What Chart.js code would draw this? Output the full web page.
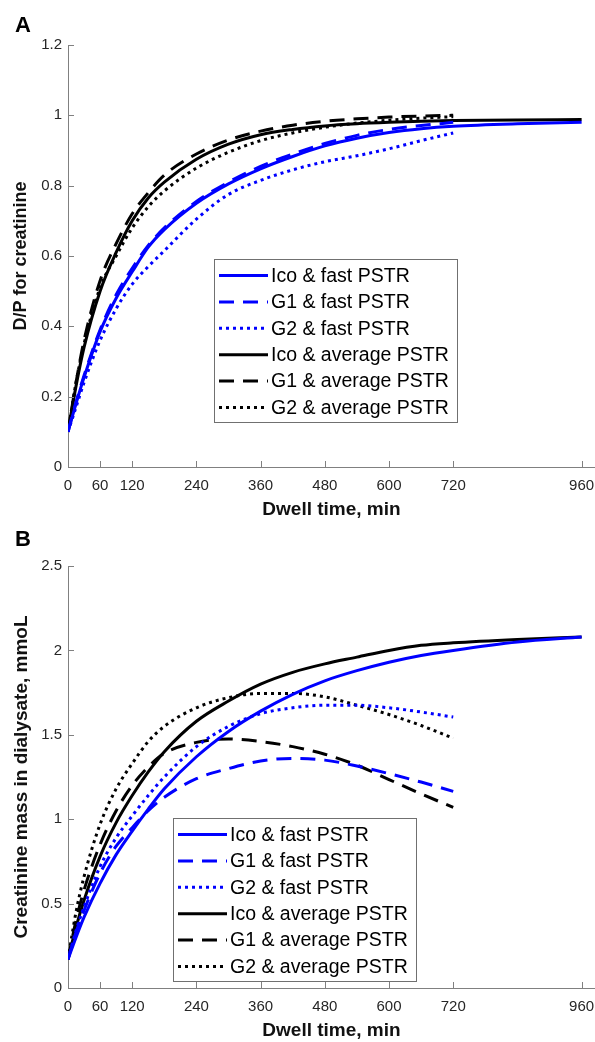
<!DOCTYPE html>
<html>
<head>
<meta charset="utf-8">
<script src="https://cdn.jsdelivr.net/npm/chart.js@4.4.1/dist/chart.umd.min.js"></script>
<style>
body { margin:0; background:#fff; }
canvas { display:block; }
</style>
</head>
<body>
<canvas id="chartA" width="595" height="521"></canvas>
<canvas id="chartB" width="595" height="521"></canvas>
<script>
// dwell times (min)
var tIco = [0,15,30,60,90,120,150,180,240,300,360,420,480,540,600,660,720,840,960];
var tG   = [0,15,30,60,90,120,150,180,240,300,360,420,480,540,600,660,720];
var xTicks = [0,60,120,240,360,480,600,720,960];
var yTicksA = [0,0.2,0.4,0.6,0.8,1,1.2];
var yTicksB = [0,0.5,1,1.5,2,2.5];

var labels = ['Ico & fast PSTR','G1 & fast PSTR','G2 & fast PSTR',
              'Ico & average PSTR','G1 & average PSTR','G2 & average PSTR'];

// A: D/P for creatinine
var icoFastA = [0.10,0.18,0.255,0.385,0.48,0.555,0.625,0.675,0.75,0.805,0.848,0.883,0.913,0.935,0.951,0.962,0.969,0.976,0.98];
var g1FastA  = [0.10,0.185,0.26,0.39,0.49,0.565,0.63,0.68,0.755,0.81,0.855,0.89,0.92,0.943,0.96,0.971,0.98];
var g2FastA  = [0.10,0.17,0.24,0.36,0.45,0.52,0.57,0.615,0.705,0.775,0.815,0.845,0.868,0.885,0.905,0.928,0.95];
var icoAvgA  = [0.10,0.23,0.34,0.50,0.61,0.70,0.765,0.81,0.875,0.918,0.945,0.96,0.97,0.976,0.98,0.983,0.985,0.987,0.988];
var g1AvgA   = [0.10,0.24,0.36,0.53,0.635,0.72,0.78,0.83,0.89,0.93,0.955,0.972,0.983,0.99,0.995,0.998,1.0];
var g2AvgA   = [0.10,0.24,0.35,0.51,0.60,0.68,0.74,0.785,0.85,0.895,0.928,0.95,0.966,0.978,0.986,0.992,0.996];

// B: creatinine mass in dialysate (mmol)
var icoFastB = [0.17,0.30,0.42,0.62,0.79,0.93,1.06,1.18,1.37,1.52,1.64,1.74,1.82,1.88,1.93,1.97,2.0,2.05,2.08];
var g1FastB  = [0.17,0.33,0.46,0.68,0.84,0.95,1.05,1.13,1.24,1.30,1.345,1.36,1.35,1.315,1.27,1.22,1.165];
var g2FastB  = [0.17,0.34,0.48,0.72,0.89,1.02,1.14,1.25,1.43,1.55,1.625,1.66,1.675,1.675,1.66,1.635,1.605];
var icoAvgB  = [0.17,0.36,0.52,0.78,0.98,1.14,1.28,1.40,1.58,1.70,1.80,1.87,1.92,1.96,2.0,2.03,2.045,2.065,2.08];
var g1AvgB   = [0.17,0.40,0.58,0.85,1.05,1.20,1.31,1.39,1.455,1.475,1.46,1.43,1.385,1.32,1.235,1.15,1.07];
var g2AvgB   = [0.17,0.45,0.66,0.97,1.18,1.33,1.46,1.55,1.66,1.72,1.745,1.745,1.725,1.675,1.62,1.555,1.48];

var FONT = '"Liberation Sans", Arial, sans-serif';
var BLUE = '#0000ff', BLACK = '#000000';
var DASH = [15,9], DOT = [3,4];

function pts(ts, vs) { return ts.map(function(t,i){ return {x:t, y:vs[i]}; }); }

function ds(label, ts, vs, color, dash) {
  return {
    label: label, data: pts(ts, vs), borderColor: color, backgroundColor: color,
    borderWidth: 3, borderDash: dash, borderCapStyle: 'butt', pointRadius: 0,
    fill: false, cubicInterpolationMode: 'monotone'
  };
}

// inward ticks, boxed legend and panel letter
var decoPlugin = {
  id: 'deco',
  afterDatasetsDraw: function(chart, args, o) {
    var ctx = chart.ctx, area = chart.chartArea;
    var xs = chart.scales.x, ys = chart.scales.y;
    ctx.save();
    ctx.strokeStyle = '#808080'; ctx.lineWidth = 1; ctx.setLineDash([]);
    ctx.beginPath();
    xs.ticks.forEach(function(t){
      var px = Math.round(xs.getPixelForValue(t.value)) + 0.5;
      ctx.moveTo(px, area.bottom); ctx.lineTo(px, area.bottom - 6);
    });
    ys.ticks.forEach(function(t){
      var py = Math.round(ys.getPixelForValue(t.value)) + 0.5;
      ctx.moveTo(area.left, py); ctx.lineTo(area.left + 6, py);
    });
    ctx.stroke();

    // legend
    var L = o.box;
    ctx.fillStyle = '#fff';
    ctx.fillRect(L.x, L.y, L.w, L.h);
    ctx.strokeStyle = '#707070';
    ctx.strokeRect(L.x + 0.5, L.y + 0.5, L.w, L.h);
    ctx.font = '19.5px ' + FONT;
    ctx.textBaseline = 'middle';
    chart.data.datasets.forEach(function(d, i){
      var y = L.y + 16.5 + i * 26.4;
      ctx.strokeStyle = d.borderColor; ctx.lineWidth = 3;
      ctx.setLineDash(d.borderDash || []);
      ctx.beginPath(); ctx.moveTo(L.x + 5, y); ctx.lineTo(L.x + 54, y); ctx.stroke();
      ctx.fillStyle = '#000';
      ctx.fillText(d.label, L.x + 57, y + 1);
    });

    ctx.font = 'bold 22px ' + FONT;
    ctx.fillStyle = '#000';
    ctx.textBaseline = 'alphabetic';
    ctx.fillText(o.letter, 15, o.letterY);
    ctx.restore();
  }
};

function makeChart(id, sets, yTicks, yMax, yTitle, yTitleSize, letter, letterY, box) {
  var data = [
    ds(labels[0], tIco, sets[0], BLUE, []),
    ds(labels[1], tG, sets[1], BLUE, DASH),
    ds(labels[2], tG, sets[2], BLUE, DOT),
    ds(labels[3], tIco, sets[3], BLACK, []),
    ds(labels[4], tG, sets[4], BLACK, DASH),
    ds(labels[5], tG, sets[5], BLACK, DOT)
  ];
  return new Chart(document.getElementById(id), {
    type: 'line',
    data: { datasets: data },
    plugins: [decoPlugin],
    options: {
      responsive: false,
      animation: false,
      layout: { padding: { top: 45, right: 0, left: 0, bottom: 0 } },
      plugins: {
        legend: { display: false },
        tooltip: { enabled: false },
        deco: { letter: letter, letterY: letterY, box: box }
      },
      scales: {
        x: {
          type: 'linear', min: 0, max: 985,
          afterBuildTicks: function(s){ s.ticks = xTicks.map(function(v){ return {value:v}; }); },
          afterFit: function(s){ s.height = 54; s.paddingRight = 0; s.paddingLeft = 0; },
          grid: { display: true, drawOnChartArea: false, drawTicks: false },
          border: { display: true, color: '#808080', width: 1 },
          ticks: { padding: 10, color: '#262626', font: { family: FONT, size: 15 },
                   maxRotation: 0, autoSkip: false, callback: function(v){ return String(v); } },
          title: { display: true, text: 'Dwell time, min', color: '#111',
                   font: { family: FONT, size: 19, weight: 'bold', lineHeight: 1 },
                   padding: { top: 0, bottom: 2 } }
        },
        y: {
          type: 'linear', min: 0, max: yMax,
          afterBuildTicks: function(s){ s.ticks = yTicks.map(function(v){ return {value:v}; }); },
          afterFit: function(s){ s.width = 68; },
          grid: { display: true, drawOnChartArea: false, drawTicks: false },
          border: { display: true, color: '#808080', width: 1 },
          ticks: { padding: 6, color: '#262626', font: { family: FONT, size: 15 },
                   callback: function(v){ return String(v); } },
          title: { display: true, text: yTitle, color: '#111',
                   font: { family: FONT, size: yTitleSize, weight: 'bold', lineHeight: 1 },
                   padding: { top: 12.5, bottom: 0 } }
        }
      }
    }
  });
}

makeChart('chartA', [icoFastA, g1FastA, g2FastA, icoAvgA, g1AvgA, g2AvgA],
  yTicksA, 1.2, 'D/P for creatinine', 18, 'A', 32, { x: 214, y: 259, w: 243, h: 163 });
makeChart('chartB', [icoFastB, g1FastB, g2FastB, icoAvgB, g1AvgB, g2AvgB],
  yTicksB, 2.5, 'Creatinine mass in dialysate, mmoL', 19, 'B', 25, { x: 173, y: 297, w: 243, h: 163 });
</script>
</body>
</html>
